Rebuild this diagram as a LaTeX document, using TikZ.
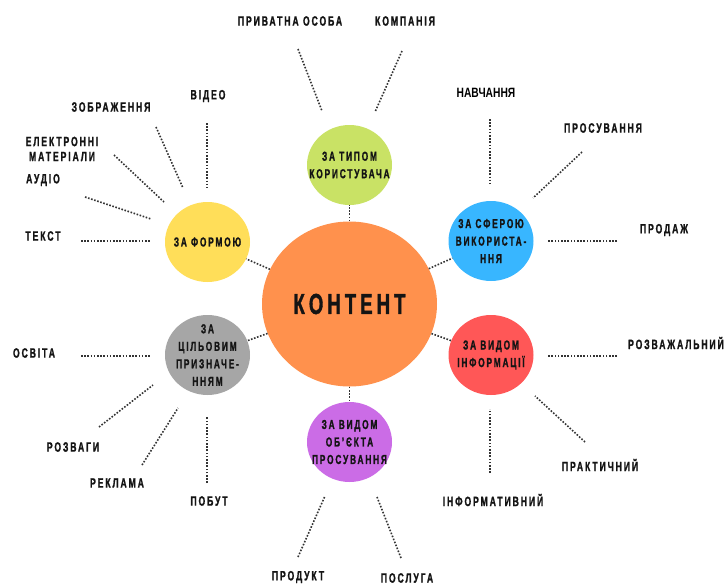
\documentclass[tikz,border=0pt]{standalone}
\usepackage{fontspec}
\usetikzlibrary{shapes.geometric}
\newfontfamily\labfont[FakeStretch=0.64,LetterSpace=14,FakeBold=1.2]{Liberation Sans}
\newfontfamily\plainfont[FakeStretch=0.76]{Liberation Sans}
\definecolor{ink}{HTML}{141414}
\definecolor{dotc}{HTML}{333333}
\definecolor{corange}{HTML}{FF914D}
\definecolor{cgreen}{HTML}{C9E265}
\definecolor{cyellow}{HTML}{FFDE59}
\definecolor{cblue}{HTML}{38B6FF}
\definecolor{cgrey}{HTML}{A6A6A6}
\definecolor{cred}{HTML}{FF5757}
\definecolor{cpurple}{HTML}{CB6CE6}
\tikzset{
  lab/.style={font=\labfont\bfseries\fontsize{13.5}{15}\selectfont, text=ink, align=center, inner sep=0pt},
  intext/.style={font=\labfont\bfseries\fontsize{13}{17.5}\selectfont, text=ink, align=center, inner sep=0pt},
  circ/.style={ellipse, minimum width=85pt, minimum height=80pt, inner sep=0pt},
  dotline/.style={draw=dotc, line width=1.6pt, dash pattern=on 1.6pt off 1.6pt},
}
\begin{document}
\begin{tikzpicture}[x=1pt,y=-1pt]
\useasboundingbox (0,0) rectangle (725,584);
% central
\node[ellipse, fill=corange, minimum width=175pt, minimum height=165pt, inner sep=0pt,
  font=\labfont\bfseries\fontsize{29}{30}\selectfont, text=ink] (c) at (349.5,304) {КОНТЕНТ};
% satellites
\node[circ, fill=cgreen, label={[intext]center:ЗА ТИПОМ\\КОРИСТУВАЧА}] (g) at (349.5,165) {};
\node[circ, fill=cyellow, label={[intext]center:ЗА ФОРМОЮ}] (y) at (207.5,242) {};
\node[circ, fill=cblue, label={[intext]center:ЗА СФЕРОЮ\\ВИКОРИСТА-\\ННЯ}] (b) at (491,241) {};
\node[circ, fill=cgrey, label={[intext]center:ЗА\\ЦІЛЬОВИМ\\ПРИЗНАЧЕ-\\ННЯМ}] (gr) at (207.5,355) {};
\node[circ, fill=cred, label={[intext]center:ЗА ВИДОМ\\ІНФОРМАЦІЇ}] (r) at (491,355) {};
\node[circ, fill=cpurple, label={[intext]center:ЗА ВИДОМ\\ОБ’ЄКТА\\ПРОСУВАННЯ}] (p) at (349.5,442) {};
% connectors centre-satellites
\foreach \s in {g,y,b,gr,r,p} \draw[dotline] (c) -- (\s);
% labels
\node[lab] (l1) at (43,236) {ТЕКСТ};
\node[lab] (l2) at (43,180) {АУДІО};
\node[lab] (l3) at (62,149) {ЕЛЕКТРОННІ\\МАТЕРІАЛИ};
\node[lab] (l4) at (111,107) {ЗОБРАЖЕННЯ};
\node[lab] (l5) at (208,96) {ВІДЕО};
\node[lab] (l6) at (290,21) {ПРИВАТНА ОСОБА};
\node[lab] (l7) at (405,21) {КОМПАНІЯ};
\node[text=black, inner sep=0pt, font=\plainfont\bfseries\fontsize{13.5}{15}\selectfont] (l8) at (486,93) {НАВЧАННЯ};
\node[lab] (l9) at (603,128) {ПРОСУВАННЯ};
\node[lab] (l10) at (664,230) {ПРОДАЖ};
\node[lab] (l11) at (34,353) {ОСВІТА};
\node[lab] (l12) at (73,447) {РОЗВАГИ};
\node[lab] (l13) at (117,483) {РЕКЛАМА};
\node[lab] (l14) at (209,501) {ПОБУТ};
\node[lab] (l15) at (298,577) {ПРОДУКТ};
\node[lab] (l16) at (407,578) {ПОСЛУГА};
\node[lab, anchor=east] (l17) at (724,343) {РОЗВАЖАЛЬНИЙ};
\node[lab] (l18) at (600,465) {ПРАКТИЧНИЙ};
\node[lab] (l19) at (493,500) {ІНФОРМАТИВНИЙ};
% spoke end points
\coordinate (a1) at (81,241);  \coordinate (b1) at (151,241);
\coordinate (a2) at (85,197);  \coordinate (b2) at (151,219);
\coordinate (a3) at (114,155); \coordinate (b3) at (164,202);
\coordinate (a4) at (156,127); \coordinate (b4) at (183,188);
\coordinate (a5) at (207,123); \coordinate (b5) at (207,188);
\coordinate (a6) at (298,49);  \coordinate (b6) at (322,111);
\coordinate (a7) at (402,51);  \coordinate (b7) at (375,112);
\coordinate (a8) at (490,119); \coordinate (b8) at (490,184);
\coordinate (a9) at (582,152); \coordinate (b9) at (533,198);
\coordinate (a10) at (617,241); \coordinate (b10) at (547,241);
\coordinate (a11) at (81,356);  \coordinate (b11) at (151,356);
\coordinate (a12) at (99,427);  \coordinate (b12) at (153,385);
\coordinate (a13) at (142,465); \coordinate (b13) at (178,408);
\coordinate (a14) at (207,483); \coordinate (b14) at (207,417);
\coordinate (a15) at (298,557); \coordinate (b15) at (325,496);
\coordinate (a16) at (401,558); \coordinate (b16) at (377,497);
\coordinate (a17) at (617,356); \coordinate (b17) at (547,356);
\coordinate (a18) at (585,442); \coordinate (b18) at (535,396);
\coordinate (a19) at (490,473); \coordinate (b19) at (490,409);
\foreach \i in {1,...,19} \draw[dotline] (a\i) -- (b\i);
\end{tikzpicture}
\end{document}
